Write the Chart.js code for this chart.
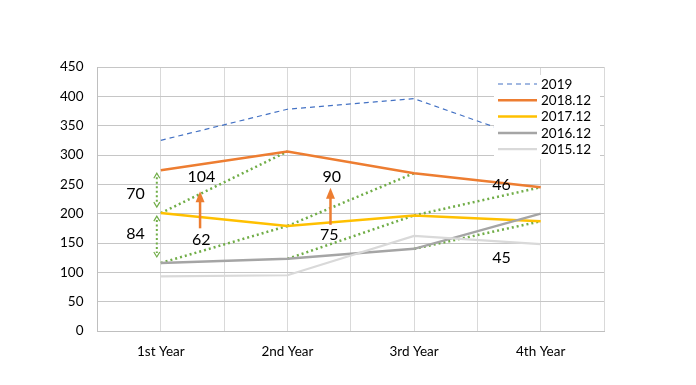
<!DOCTYPE html>
<html>
<head>
<meta charset="utf-8">
<script src="https://cdn.jsdelivr.net/npm/chart.js@4"></script>
<style>
  html, body { margin: 0; padding: 0; background: #fff; }
  #wrap { width: 696px; height: 385px; }
</style>
</head>
<body>
<div id="wrap"><canvas id="c" width="696" height="385"></canvas></div>
<script>
// ---- data ----
const categories = ['1st Year', '2nd Year', '3rd Year', '4th Year'];
const yTicks = [0, 50, 100, 150, 200, 250, 300, 350, 400, 450];
const s2019 = [325, 378, 396, 320];
const s2018 = [274, 306, 269, 245];
const s2017 = [201, 179, 197, 187];
const s2016 = [116, 123, 140, 200];
const s2015 = [93, 95, 162, 148];

// cohort links: [fromSeries, fromYearIndex, toSeries, toYearIndex]
const cohortLinks = [
  ['2017.12', 0, '2018.12', 1],
  ['2016.12', 0, '2017.12', 1],
  ['2017.12', 1, '2018.12', 2],
  ['2016.12', 1, '2017.12', 2],
  ['2017.12', 2, '2018.12', 3],
  ['2016.12', 2, '2017.12', 3]
];
// vertical gap arrows at year 1: [upperSeries, lowerSeries]
const gapArrows = [['2018.12', '2017.12'], ['2017.12', '2016.12']];
// growth arrows: [x (category units), fromValue, toValue]
const growthArrows = [[1.31, 175, 238], [2.34, 181, 244]];
// annotation texts: [text, x (category units), y value]
const notes = [
  ['70', 0.8, 233], ['84', 0.8, 165],
  ['104', 1.32, 262], ['62', 1.32, 155],
  ['90', 2.35, 263], ['75', 2.33, 164],
  ['46', 3.69, 249], ['45', 3.69, 124]
];

const seriesMap = { '2019': s2019, '2018.12': s2018, '2017.12': s2017, '2016.12': s2016, '2015.12': s2015 };
const toPts = arr => arr.map((v, i) => ({ x: i + 1, y: v }));

const FONT = 'Lato, "Open Sans", sans-serif';
const GREEN = '#70AD47';
const ORANGE = '#ED7D31';

const mainDatasets = [
  { label: '2015.12', data: toPts(s2015), borderColor: '#D9D9D9', borderWidth: 2.2 },
  { label: '2016.12', data: toPts(s2016), borderColor: '#A5A5A5', borderWidth: 2.5 },
  { label: '2017.12', data: toPts(s2017), borderColor: '#FFC000', borderWidth: 2.5 },
  { label: '2018.12', data: toPts(s2018), borderColor: ORANGE, borderWidth: 2.5 },
  { label: '2019', data: toPts(s2019), borderColor: '#4472C4', borderWidth: 1.2, borderDash: [5, 4] }
].map(d => Object.assign(d, { legend: true, pointRadius: 0, tension: 0, fill: false }));

const linkDatasets = cohortLinks.map(([a, ai, b, bi]) => ({
  label: '', legend: false,
  data: [{ x: ai + 1, y: seriesMap[a][ai] }, { x: bi + 1, y: seriesMap[b][bi] }],
  borderColor: GREEN, borderWidth: 2.5, borderDash: [2, 3], pointRadius: 0, tension: 0, fill: false
}));

const legendOrder = ['2019', '2018.12', '2017.12', '2016.12', '2015.12'];

function arrowHead(ctx, x, y, dir, w, len, color) {
  ctx.save();
  ctx.fillStyle = color;
  ctx.beginPath();
  ctx.moveTo(x, y);
  ctx.lineTo(x - w / 2, y - dir * len);
  ctx.lineTo(x + w / 2, y - dir * len);
  ctx.closePath();
  ctx.fill();
  ctx.restore();
}

const annotPlugin = {
  id: 'annot',
  afterDatasetsDraw(chart) {
    const ctx = chart.ctx;
    const xs = chart.scales.x, ys = chart.scales.y;
    // green dotted double arrows
    gapArrows.forEach(([up, lo]) => {
      const x = xs.getPixelForValue(1) - 4;
      const yTop = ys.getPixelForValue(seriesMap[up][0]) + 3;
      const yBot = ys.getPixelForValue(seriesMap[lo][0]) - 6;
      ctx.save();
      ctx.strokeStyle = GREEN; ctx.lineWidth = 2; ctx.setLineDash([2, 2.5]);
      ctx.beginPath(); ctx.moveTo(x, yTop + 4); ctx.lineTo(x, yBot - 4); ctx.stroke();
      ctx.setLineDash([]); ctx.lineWidth = 1.2;
      ctx.beginPath();
      ctx.moveTo(x - 3, yTop + 5); ctx.lineTo(x, yTop); ctx.lineTo(x + 3, yTop + 5);
      ctx.moveTo(x - 3, yBot - 5); ctx.lineTo(x, yBot); ctx.lineTo(x + 3, yBot - 5);
      ctx.stroke();
      ctx.restore();
    });
    // orange growth arrows
    growthArrows.forEach(([xv, from, to]) => {
      const x = xs.getPixelForValue(xv);
      const y0 = ys.getPixelForValue(from), y1 = ys.getPixelForValue(to);
      ctx.save();
      ctx.strokeStyle = ORANGE; ctx.lineWidth = 2.5;
      ctx.beginPath(); ctx.moveTo(x, y0); ctx.lineTo(x, y1 + 8); ctx.stroke();
      ctx.restore();
      arrowHead(ctx, x, y1, -1, 9, 11, ORANGE);
    });
    // texts
    ctx.save();
    ctx.fillStyle = '#000';
    ctx.font = '16px ' + FONT;
    ctx.textAlign = 'center'; ctx.textBaseline = 'middle';
    notes.forEach(([t, xv, yv]) => {
      ctx.fillText(t, xs.getPixelForValue(xv), ys.getPixelForValue(yv));
    });
    ctx.restore();
    // legend box inside plot area
    const ca = chart.chartArea;
    const bx = ca.right - 110, by = ca.top + 8;
    ctx.save();
    ctx.fillStyle = '#fff';
    ctx.fillRect(bx, by, 106, 84);
    ctx.font = '13.5px ' + FONT;
    ctx.textAlign = 'left'; ctx.textBaseline = 'middle';
    legendOrder.forEach((name, i) => {
      const ds = chart.data.datasets.find(d => d.legend && d.label === name);
      const y = by + 9 + i * 16.3;
      ctx.strokeStyle = ds.borderColor;
      ctx.lineWidth = ds.borderWidth;
      ctx.setLineDash(ds.borderDash || []);
      ctx.beginPath(); ctx.moveTo(bx + 4, y); ctx.lineTo(bx + 43, y); ctx.stroke();
      ctx.setLineDash([]);
      ctx.fillStyle = '#000';
      ctx.fillText(name, bx + 47, y + 0.5);
    });
    ctx.restore();
  }
};

new Chart(document.getElementById('c'), {
  type: 'line',
  data: { datasets: [...mainDatasets, ...linkDatasets] },
  options: {
    responsive: false,
    animation: false,
    layout: { padding: { top: 67, right: 92, left: 0, bottom: 0 } },
    plugins: { legend: { display: false }, tooltip: { enabled: false } },
    scales: {
      x: {
        type: 'linear', min: 0.5, max: 4.5,
        afterBuildTicks: s => { s.ticks = [0.5, 1, 1.5, 2, 2.5, 3, 3.5, 4, 4.5].map(v => ({ value: v })); },
        afterFit: s => { s.height = 54; },
        grid: { color: '#D9D9D9', lineWidth: 1, drawTicks: false },
        border: { color: '#BFBFBF' },
        ticks: {
          autoSkip: false, maxRotation: 0, padding: 13,
          color: '#000', font: { family: FONT, size: 13.5 },
          callback: v => Number.isInteger(v) ? categories[v - 1] : ''
        }
      },
      y: {
        min: 0, max: 450,
        afterBuildTicks: s => { s.ticks = yTicks.map(v => ({ value: v })); },
        afterFit: s => { s.width = 97.5; },
        grid: { color: '#C6C6C6', lineWidth: 1, drawTicks: false },
        border: { color: '#BFBFBF' },
        ticks: { padding: 14, color: '#000', font: { family: FONT, size: 13.5 } }
      }
    }
  },
  plugins: [annotPlugin]
});
</script>
</body>
</html>
